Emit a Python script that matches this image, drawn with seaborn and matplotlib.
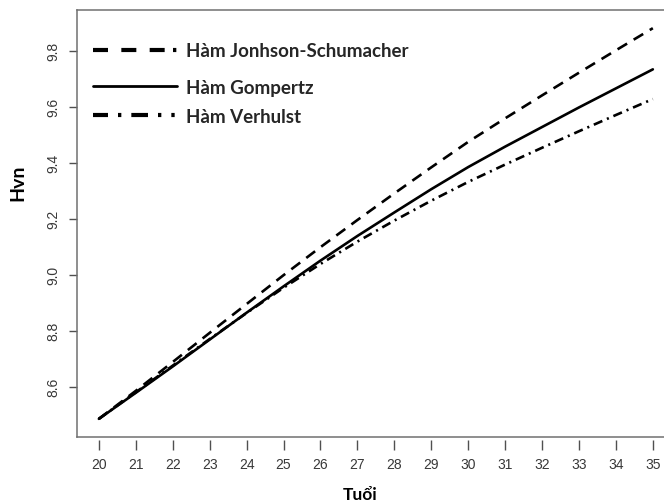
import matplotlib
matplotlib.use("Agg")
import matplotlib.pyplot as plt
import seaborn as sns
import pandas as pd
from matplotlib.lines import Line2D

# ---- data ----
ages = list(range(20, 36))
johnson_schumacher = [8.485, 8.585, 8.688, 8.792, 8.895, 8.998, 9.098, 9.195,
                      9.290, 9.383, 9.474, 9.558, 9.640, 9.721, 9.801, 9.880]
gompertz = [8.485, 8.578, 8.672, 8.768, 8.864, 8.958, 9.050, 9.138,
            9.222, 9.305, 9.384, 9.457, 9.527, 9.597, 9.665, 9.733]
verhulst = [8.485, 8.580, 8.675, 8.770, 8.863, 8.953, 9.038, 9.118,
            9.193, 9.264, 9.331, 9.393, 9.453, 9.512, 9.570, 9.627]
series_names = ["Hàm Jonhson-Schumacher", "Hàm Gompertz", "Hàm Verhulst"]
x_ticks = list(range(20, 36))
y_ticks = [8.6, 8.8, 9.0, 9.2, 9.4, 9.6, 9.8]
y_tick_labels = ["8.6", "8.8", "9.0", "9.2", "9.4", "9.6", "9.8"]
x_label = "Tuổi"
y_label = "Hvn"

sns.set_style("ticks")
plt.rcParams["lines.scale_dashes"] = False
plt.rcParams["font.family"] = ["Liberation Sans", "DejaVu Sans"]

df = pd.DataFrame({
    "age": ages * 3,
    "value": johnson_schumacher + gompertz + verhulst,
    "model": [n for n in series_names for _ in ages],
})

fig = plt.figure(figsize=(6.64, 5.02), dpi=100)
ax = fig.add_axes([76.7 / 664, 64.5 / 502, 598.3 / 664, 426.8 / 502])

sns.lineplot(
    data=df, x="age", y="value", style="model", style_order=series_names,
    dashes={series_names[0]: (8.0, 5.5), series_names[1]: "",
            series_names[2]: (6.7, 3.6, 1.5, 3.6)},
    color="black", linewidth=1.9, legend=False, ax=ax,
)

ax.set_xlim(19.4, 35.6)
ax.set_ylim(8.422, 9.946)

spine_col = "#707070"
tick_col = "#505050"
lab_col = "#383838"
for s in ax.spines.values():
    s.set_color(spine_col)
    s.set_linewidth(1.1)

# y axis
ax.set_yticks(y_ticks)
ax.set_yticklabels(y_tick_labels, rotation=90, va="center")
ax.tick_params(axis="y", direction="out", length=6, width=1, color=tick_col,
               pad=6, labelsize=10, labelcolor=lab_col)

# x axis (ticks slightly detached from the box, as in the reference)
ax.tick_params(axis="x", bottom=False, labelbottom=False)
sec = ax.secondary_xaxis(-3.5 / 426.8)
sec.set_xticks(x_ticks)
sec.spines["bottom"].set_visible(False)
sec.tick_params(direction="out", length=7.2, width=1, color=tick_col,
                pad=5.4, labelsize=10, labelcolor=lab_col)

ax.set_xlabel("")
ax.set_ylabel("")
lab_font = ["Lato", "DejaVu Sans"]
fig.text(360 / 664, 1.5 / 502, x_label, ha="center", va="baseline",
         family=lab_font, fontweight="bold", fontsize=12.5, color="black")
fig.text(18 / 664, 1 - 183 / 502, y_label, ha="center", va="center",
         rotation=90, family=lab_font, fontweight="bold", fontsize=14,
         color="black")

# legend (three rows, positioned individually)
handles = [
    Line2D([], [], color="black", lw=3.0,
           dashes=(10.8, 9.6, 10.8, 9.6, 10.8, 6.0, 2.4, 50)),
    Line2D([], [], color="black", lw=2.0),
    Line2D([], [], color="black", lw=3.0,
           dashes=(10.8, 7.2, 2.4, 7.2, 12.0, 7.2, 2.4, 7.2, 2.4, 50)),
]
row_y = [51.7, 88.3, 117.3]
leg_size = 13.5
legs = []
for h, name, yy in zip(handles, series_names, row_y):
    lg = ax.legend([h], [name], loc="center left",
                   bbox_to_anchor=(93 / 664, 1 - yy / 502),
                   bbox_transform=fig.transFigure, frameon=False,
                   borderpad=0, borderaxespad=0,
                   handlelength=60.5 / leg_size,
                   handletextpad=6.5 / leg_size,
                   prop={"family": lab_font, "weight": "bold",
                         "size": leg_size})
    legs.append(lg)
for lg in legs[:-1]:
    ax.add_artist(lg)

fig.savefig("out.png", dpi=100)
